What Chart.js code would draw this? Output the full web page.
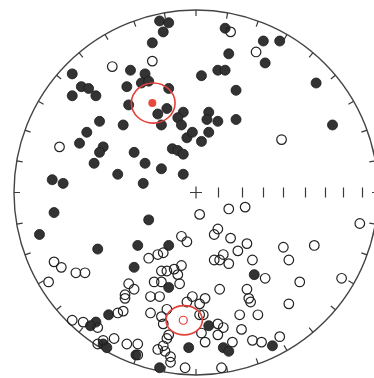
<!DOCTYPE html>
<html lang="en">
<head>
    <meta charset="UTF-8">
    <title>Stereonet</title>
    <style>
        body { margin: 0; background: #fff; }
        #net { display: block; }
    </style>
    <script src="https://cdn.jsdelivr.net/npm/chart.js"></script>
</head>
<body>
    <canvas id="net" width="374" height="378"></canvas>

    <script>
        // projected positions on the net, unit circle (x east, y north)
        const filledPoles = [
            [-0.20, 0.94], [-0.15, 0.93], [-0.18, 0.88], [-0.24, 0.82], [-0.36, 0.67],
            [-0.68, 0.65], [-0.28, 0.65], [-0.30, 0.60], [-0.26, 0.61], [-0.38, 0.58],
            [-0.15, 0.57], [-0.63, 0.58], [-0.59, 0.57], [-0.68, 0.53], [-0.55, 0.53],
            [-0.37, 0.48], [-0.16, 0.46], [-0.21, 0.43], [-0.07, 0.44], [-0.10, 0.41],
            [-0.53, 0.39], [-0.40, 0.37], [-0.19, 0.37], [-0.08, 0.37], [-0.60, 0.33],
            [-0.64, 0.27], [-0.05, 0.30], [-0.02, 0.33], [-0.51, 0.25], [-0.53, 0.22],
            [-0.34, 0.22], [-0.13, 0.24], [-0.10, 0.23], [-0.07, 0.21], [-0.56, 0.16],
            [-0.28, 0.16], [-0.19, 0.13], [-0.79, 0.07], [-0.73, 0.05], [-0.43, 0.10],
            [-0.29, 0.05], [-0.07, 0.10],
            [0.16, 0.90], [0.37, 0.83], [0.46, 0.83], [0.18, 0.76], [0.38, 0.71],
            [0.03, 0.64], [0.12, 0.67], [0.16, 0.67], [0.22, 0.56], [0.66, 0.60],
            [0.07, 0.44], [0.06, 0.40], [0.12, 0.39], [0.22, 0.40], [0.75, 0.37],
            [0.07, 0.33], [0.03, 0.28],
            [-0.26, -0.15], [-0.78, -0.11], [-0.86, -0.23], [-0.54, -0.31], [-0.32, -0.29],
            [-0.15, -0.29], [-0.34, -0.41], [-0.15, -0.52], [0.32, -0.45], [-0.48, -0.67],
            [-0.55, -0.71], [-0.58, -0.73], [0.07, -0.73], [-0.04, -0.85], [0.15, -0.85],
            [0.18, -0.87], [0.42, -0.84], [-0.51, -0.83], [-0.49, -0.85], [-0.33, -0.89],
            [-0.20, -0.96]
        ];
        const openPoles = [
            [-0.46, 0.69], [-0.24, 0.72], [-0.75, 0.25], [0.19, 0.88], [0.33, 0.77], [0.47, 0.29],
            [0.02, -0.12], [0.18, -0.09], [0.27, -0.08], [0.90, -0.17], [0.12, -0.20],
            [0.10, -0.23], [0.19, -0.25], [0.28, -0.28], [-0.05, -0.27], [-0.08, -0.24],
            [0.48, -0.30], [0.65, -0.29], [0.10, -0.37], [0.13, -0.37], [0.15, -0.34],
            [0.18, -0.39], [0.23, -0.32], [0.31, -0.37], [0.51, -0.37], [0.38, -0.47],
            [0.57, -0.49], [0.80, -0.47], [0.13, -0.53], [0.28, -0.53], [0.29, -0.58],
            [0.30, -0.60], [0.51, -0.61], [0.24, -0.67], [0.34, -0.67], [0.05, -0.58],
            [0.02, -0.61], [-0.02, -0.57], [-0.05, -0.60], [0.02, -0.67], [0.04, -0.67],
            [0.12, -0.72], [0.15, -0.74], [0.12, -0.78], [0.25, -0.75], [0.03, -0.77],
            [0.05, -0.82], [0.20, -0.82], [0.31, -0.81], [0.36, -0.82], [0.46, -0.79],
            [0.14, -0.96], [-0.06, -0.96],
            [-0.26, -0.36], [-0.21, -0.34], [-0.18, -0.33], [-0.78, -0.38], [-0.74, -0.41],
            [-0.66, -0.44], [-0.61, -0.44], [-0.81, -0.49], [-0.19, -0.43], [-0.16, -0.43],
            [-0.12, -0.42], [-0.08, -0.40], [-0.10, -0.45], [-0.23, -0.49], [-0.19, -0.49],
            [-0.09, -0.50], [-0.37, -0.50], [-0.34, -0.53], [-0.39, -0.56], [-0.39, -0.58],
            [-0.25, -0.57], [-0.20, -0.57], [-0.25, -0.66], [-0.43, -0.66], [-0.40, -0.65],
            [-0.68, -0.70], [-0.62, -0.71], [-0.54, -0.74], [-0.19, -0.68], [-0.16, -0.64],
            [-0.18, -0.72], [-0.15, -0.78], [-0.16, -0.80], [-0.18, -0.84], [-0.17, -0.87],
            [-0.14, -0.90], [-0.14, -0.93], [-0.45, -0.80], [-0.38, -0.83], [-0.32, -0.83],
            [-0.54, -0.83], [-0.51, -0.81], [-0.21, -0.86], [-0.32, -0.89]
        ];
        const filledMean = [[-0.24, 0.49]];
        const openMean = [[-0.07, -0.70]];
        // confidence cones: centre x, centre y, half width, half height
        const cones = [[-0.235, 0.49, 0.12, 0.11], [-0.065, -0.70, 0.10, 0.08]];
        const rimTicks = [0, 10, 20, 30, 40, 50, 60, 70, 80, 90, 100, 110, 120, 130, 140, 150, 160, 170,
                          180, 190, 200, 210, 220, 230, 240, 250, 260, 270, 280, 290, 300, 310, 320, 330, 340, 350];
        const scaleTicks = [0.12, 0.25, 0.37, 0.48, 0.60, 0.71, 0.81, 0.91];

        const toXY = arr => arr.map(p => ({ x: p[0], y: p[1] }));

        const stereoNet = {
            id: 'stereoNet',
            beforeDatasetsDraw(chart) {
                const ctx = chart.ctx;
                const xs = chart.scales.x, ys = chart.scales.y;
                const cx = xs.getPixelForValue(0), cy = ys.getPixelForValue(0);
                const rx = xs.getPixelForValue(1) - cx, ry = cy - ys.getPixelForValue(1);
                ctx.save();
                ctx.strokeStyle = '#444';
                ctx.lineWidth = 1.4;
                ctx.beginPath();
                ctx.ellipse(cx, cy, rx, ry, 0, 0, Math.PI * 2);
                ctx.stroke();

                ctx.strokeStyle = '#3a3a3a';
                ctx.lineWidth = 1.2;
                ctx.beginPath();
                rimTicks.forEach(az => {
                    const a = az * Math.PI / 180;
                    const s = Math.sin(a), c = Math.cos(a);
                    ctx.moveTo(cx + rx * s, cy - ry * c);
                    ctx.lineTo(cx + (rx - 6) * s, cy - (ry - 6) * c);
                });
                // centre cross
                ctx.moveTo(cx - 6, cy); ctx.lineTo(cx + 6, cy);
                ctx.moveTo(cx, cy - 6); ctx.lineTo(cx, cy + 6);
                // dip scale along east radius
                scaleTicks.forEach(r => {
                    const px = Math.round(xs.getPixelForValue(r)) + 0.5;
                    ctx.moveTo(px, cy - 5);
                    ctx.lineTo(px, cy + 5);
                });
                ctx.stroke();
                ctx.restore();
            },
            afterDatasetsDraw(chart) {
                const ctx = chart.ctx;
                const xs = chart.scales.x, ys = chart.scales.y;
                ctx.save();
                ctx.strokeStyle = '#e2403a';
                ctx.lineWidth = 1.6;
                cones.forEach(c => {
                    const px = xs.getPixelForValue(c[0]), py = ys.getPixelForValue(c[1]);
                    const w = xs.getPixelForValue(c[0] + c[2]) - px;
                    const h = py - ys.getPixelForValue(c[1] + c[3]);
                    ctx.beginPath();
                    ctx.ellipse(px, py, w, h, 0, 0, Math.PI * 2);
                    ctx.stroke();
                });
                ctx.restore();
            }
        };

        new Chart(document.getElementById('net'), {
            type: 'scatter',
            data: {
                datasets: [
                    {
                        data: toXY(openPoles),
                        pointRadius: 4.8,
                        pointBackgroundColor: 'rgba(255,255,255,0)',
                        pointBorderColor: '#222',
                        pointBorderWidth: 1.2
                    },
                    {
                        data: toXY(filledPoles),
                        pointRadius: 5,
                        pointBackgroundColor: '#333',
                        pointBorderColor: '#1a1a1a',
                        pointBorderWidth: 0.8
                    },
                    {
                        data: toXY(filledMean),
                        pointRadius: 4,
                        pointBackgroundColor: '#e84a3c',
                        pointBorderColor: '#e84a3c',
                        pointBorderWidth: 0
                    },
                    {
                        data: toXY(openMean),
                        pointRadius: 4,
                        pointBackgroundColor: 'rgba(255,255,255,0)',
                        pointBorderColor: '#e2403a',
                        pointBorderWidth: 1.2
                    }
                ]
            },
            options: {
                responsive: false,
                animation: false,
                devicePixelRatio: 1,
                layout: { autoPadding: false, padding: { left: 14, right: 0, top: 10, bottom: 3 } },
                plugins: { legend: { display: false }, tooltip: { enabled: false } },
                scales: {
                    x: { type: 'linear', min: -1, max: 0.978, display: false },
                    y: { type: 'linear', min: -1, max: 1, display: false }
                }
            },
            plugins: [stereoNet]
        });
    </script>
</body>
</html>
